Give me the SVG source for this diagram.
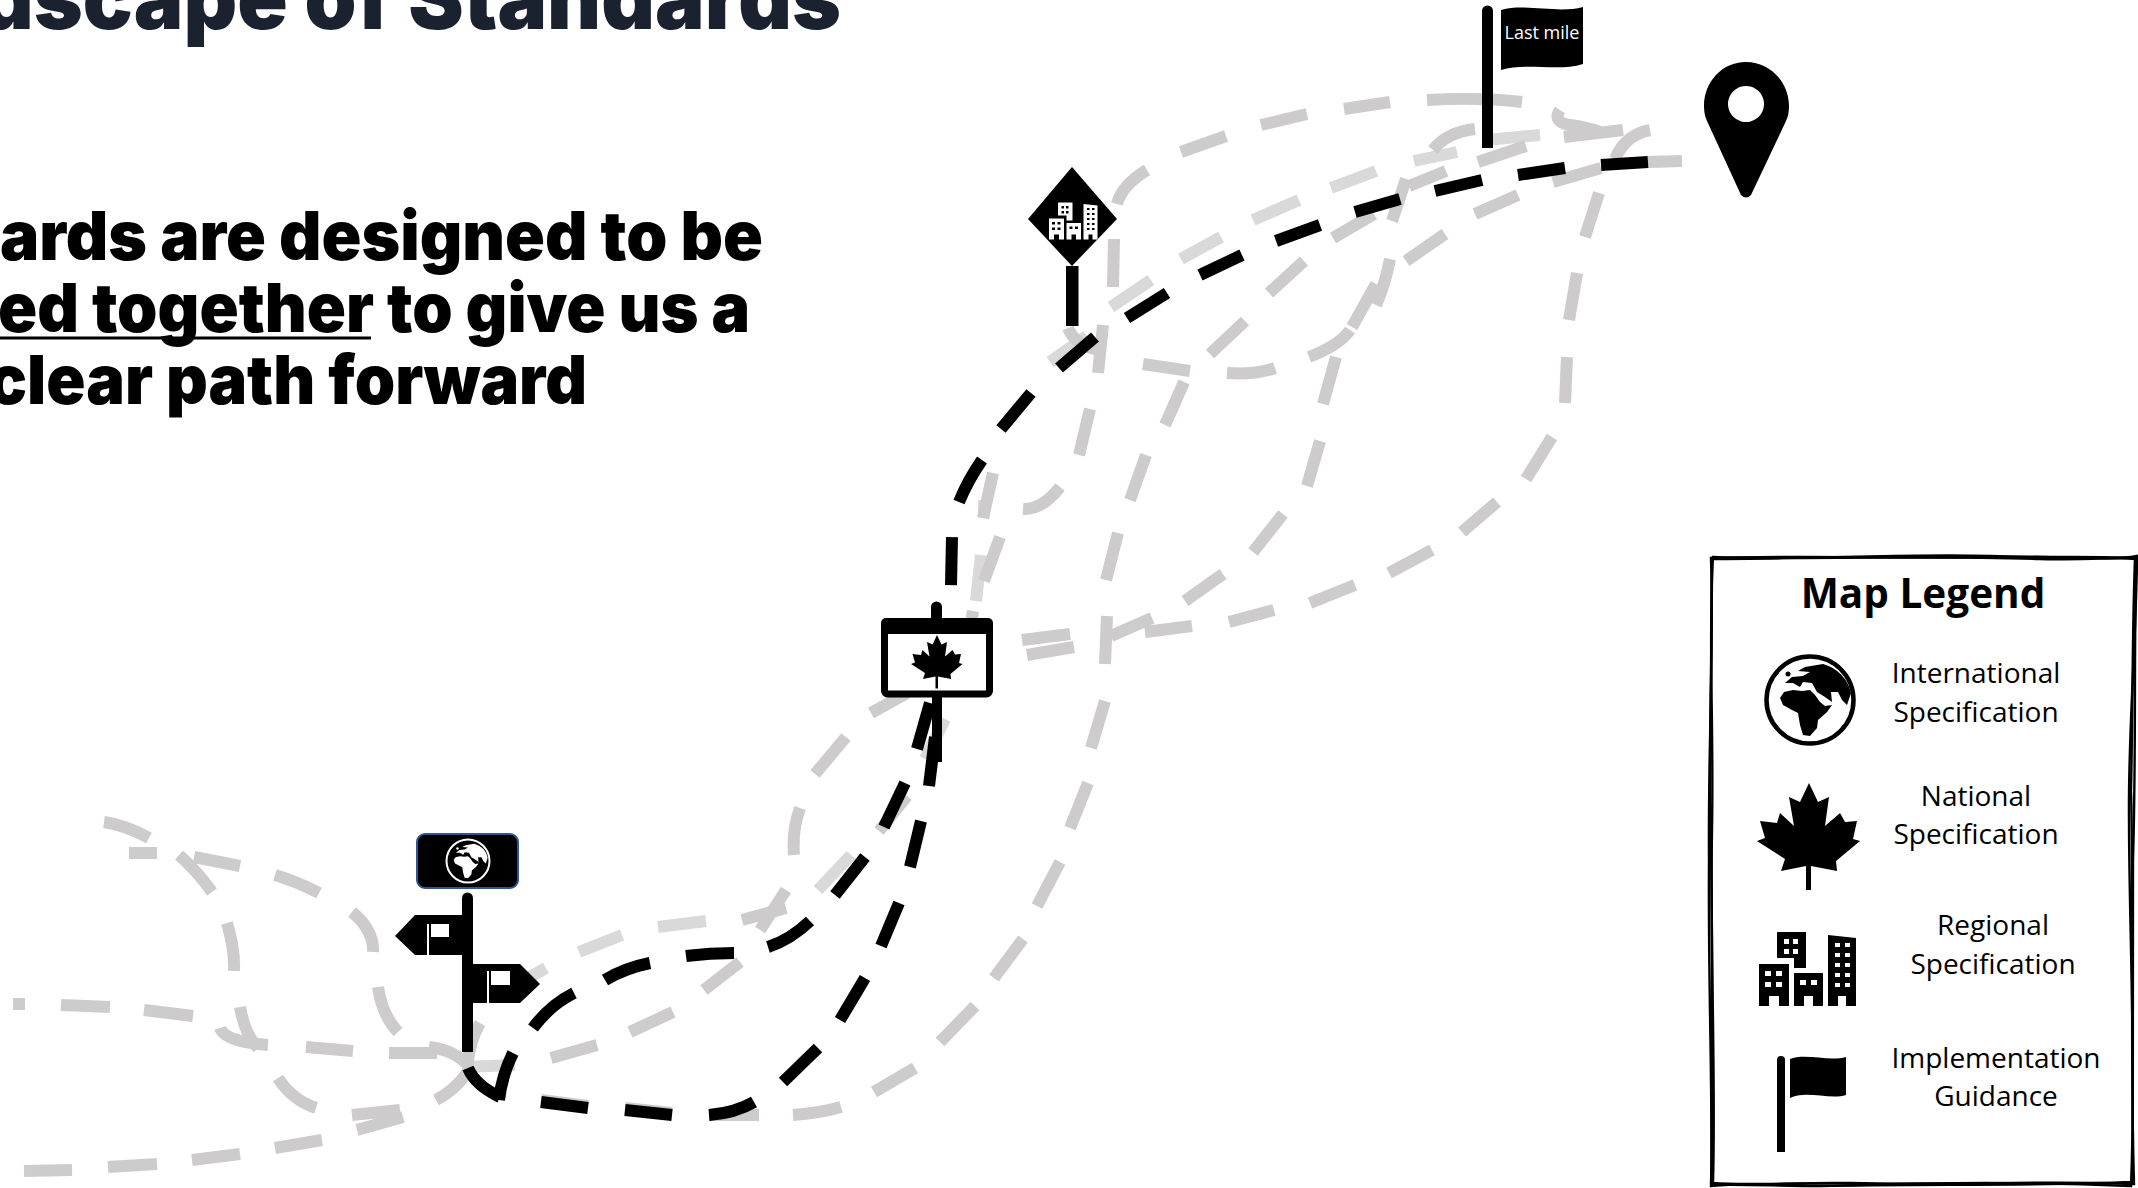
<svg xmlns="http://www.w3.org/2000/svg" width="2138" height="1188" viewBox="0 0 2138 1188">
<style>
.g{fill:none;stroke:#cdcbcb;stroke-width:12}
.l{fill:none;stroke:#d9d9d9;stroke-width:12}
.k{fill:none;stroke:#000;stroke-width:12}
.h{font-family:Inter,"Liberation Sans",sans-serif;font-weight:900;fill:#000;font-size:68px}
.t{font-family:"Open Sans","Noto Sans",sans-serif;font-size:28px;fill:#000;text-anchor:middle}
.f{fill:none;stroke:#000;stroke-width:2.4}
</style>
<defs>
<g id="continents">
<path d="M-30-2L-26-8L-17-10L-8-9L0-10L5-5L10 2L15 6L22 5L17 12L8 20L7 28L0 36L-7 35L-10 25L-12 13L-18 10L-27 5Z"/>
<path d="M-5-33L13-36A39 39 0 0 1 41-7L37 5L32 0L28-8L21-8L22 2L15-3L7-8L2-17L-7-18L-10-13L-17-17L-25-17L-18-23L-7-24L0-28L-12-29Z"/>
<circle cx="-22" cy="-26" r="2.500"/>
</g>
<path id="leaf" d="M0 0L9 19L20 14L16 43L31 30L36 39L48 38L44 56L51 58L27 78L28 88L2 83L2 107L-3 107L-3 83L-28 88L-24 76L-52 58L-44 55L-49 38L-32 40L-29 30L-15 43L-20 14L-9 19Z"/>
<g id="city">
<g fill="currentColor">
<path d="M18 0H47V36H35V26H18Z"/>
<path d="M0 32H30V74H20V64H10V74H0Z"/>
<path d="M35 41H64V74H54V64H45V74H35Z"/>
<path d="M69 3L97 6V74H87V64H79V74H69Z"/>
</g>
<path d="M25 7h5v5h-5zM34 7h5v5h-5zM25 17h5v5h-5zM34 17h5v5h-5zM6 39h6v5H6zM17 39h6v5h-6zM6 50h6v5H6zM17 50h6v5h-6zM41 48h6v5h-6zM52 48h6v5h-6zM76 11h5v4h-5zM86 11h5v4h-5zM76 21h5v4h-5zM86 21h5v4h-5zM76 31h5v4h-5zM86 31h5v4h-5zM76 41h5v4h-5zM86 41h5v4h-5zM76 51h5v4h-5zM86 51h5v4h-5z"/>
</g>
</defs>
<rect width="2138" height="1188" fill="#fff"/>

<g id="title-block">
<text x="-20" y="29" style="font-family:Inter,'Liberation Sans',sans-serif;font-weight:900;font-size:86px;fill:#1a2230" textLength="861" lengthAdjust="spacingAndGlyphs">dscape of Standards</text>
<text class="h" x="0" y="260" textLength="763" lengthAdjust="spacingAndGlyphs">ards are designed to be</text>
<text class="h" x="-2" y="332" textLength="752" lengthAdjust="spacingAndGlyphs">ed together to give us a</text>
<line x1="0" y1="338" x2="371" y2="338" stroke="#000" stroke-width="3"/>
<text class="h" x="-12" y="404" textLength="599" lengthAdjust="spacingAndGlyphs">clear path forward</text>
</g>

<g id="connectors">
<path class="l" d="M1111 307L1151 280M1181 259L1221 237M1253 220L1299 200M1331 188L1376 171M1414 161L1457 152M1486 140L1540 135M1050 362L1087 336M981 555L976 601M984 500L984 518M945 719L925 759M851 855L818 890M462 1067L515 1065M530 977L546 968M579 952L622 935M658 927L706 921"/>
<path class="g" d="M104 822Q125 825 149 838M129 853H157M179 855Q198 872 212 892M194 857L240 866M275 875Q298 882 319 893M352 912Q374 930 373 952M378 987Q382 1015 398 1032M480 1023Q470 1040 467 1067"/>
<path class="g" d="M227 923Q235 950 234 971M240 1007Q245 1035 258 1048M278 1078Q292 1100 316 1108M352 1115L400 1110"/>
<path class="g" d="M24 1171L72 1170M108 1167L157 1164M192 1160L240 1154M275 1148L322 1140M357 1130L403 1117M436 1100Q455 1090 467 1073"/>
<path class="g" d="M13 1004H25M61 1005L110 1007M144 1010L193 1016M220 1028Q225 1042 268 1045M306 1047L353 1051M389 1053L437 1053M429 1047Q455 1050 470 1067M551 1058L597 1045M630 1032L673 1012M704 990L740 962"/>
<path class="g" d="M742 920L786 908M760 930L786 890M794 855Q792 830 800 808M815 774L846 737M871 713L907 693M966 616L978 618M907 796L879 831"/>
<path class="g" d="M541 1100L588 1106M625 1108L672 1113M709 1115H759M793 1115Q820 1113 841 1107M874 1092L915 1068M940 1042L975 1006M994 978L1023 939M1037 906L1060 862M1070 828L1088 783M1091 748L1105 701M1105 664L1107 616M1106 580L1118 533"/>
<path class="g" d="M1648 162L1682 161M1553 182L1601 168M1475 214L1518 195M1406 261L1445 234M1390 259Q1385 285 1376 305M1376 284L1352 327M1350 330Q1340 345 1309 357M1275 368Q1255 375 1227 373M1190 371L1143 364"/>
<path class="g" d="M1245 321L1210 354M1304 261L1269 293M1333 238L1374 214M1392 221L1406 179M1409 186L1446 171M1478 162L1526 146"/>
<path class="g" d="M1117 204Q1122 185 1147 170M1181 152L1226 136M1261 125L1307 114M1344 109L1390 102M1427 100Q1480 97 1522 102M1560 110Q1552 122 1570 125Q1590 128 1600 132M1564 137L1623 130M1433 150Q1447 132 1475 129M1615 159Q1625 135 1650 130"/>
<path class="g" d="M1599 193L1585 237M1577 273L1569 320M1567 357L1565 403M1552 437L1526 479M1497 502L1462 532M1432 550L1389 573M1355 585L1310 603M1274 610L1229 622M1192 626L1145 632M1152 618L1111 636"/>
<path class="g" d="M1336 357L1323 404M1320 441L1307 486M1283 514L1253 552M1223 574L1185 601"/>
<path class="g" d="M1090 409L1079 455M1060 487Q1042 510 1023 509M993 473L983 518M1000 537L984 581M1184 382L1165 425M1146 455L1130 500M1114 239L1113 287M1103 325L1098 373M1068 328Q1075 345 1098 350"/>
<path class="g" d="M1022 640L1070 634M1027 655L1074 647"/>
</g>

<g id="node-start">
<rect x="417" y="834" width="101" height="54" rx="8" fill="#000" stroke="#2f5597" stroke-width="2"/>
<circle cx="468" cy="861" r="21.500" fill="none" stroke="#fff" stroke-width="2"/>
<use href="#continents" transform="translate(468 861) scale(.48)" fill="#fff"/>
<path d="M462 898a5.500 5.500 0 0 1 11 0V1052H462Z"/>
<path d="M462 915H415L395 936L415 955H462ZM473 964H520L540 984L520 1003H473Z"/>
<path d="M427 924h2v31h-2zM431 924h18v13h-18zM487 971h2v32h-2zM491 971h19v14h-19z" fill="#fff"/>
</g>

<g id="node-national">
<path d="M931 607a5.500 5.500 0 0 1 11 0V620H931ZM932 695H942V762H932Z"/>
<rect x="884.500" y="626" width="105" height="68" rx="3" fill="#fff" stroke="#000" stroke-width="7"/>
<rect x="881" y="618" width="112" height="16" rx="5"/>
<use href="#leaf" transform="translate(937 635) scale(.5)"/>
</g>

<g id="node-regional">
<path d="M1072 167L1117 219L1072 266L1028 219Z"/>
<rect x="1066" y="266" width="12.500" height="60"/>
<use href="#city" transform="translate(1049 202.500) scale(.5)" color="#fff" fill="#000"/>
</g>

<g id="node-guidance">
<path d="M1482 11a5.500 5.500 0 0 1 11 0V148H1482Z"/>
<path d="M1501 10C1525 3 1558 14 1583 7V64C1558 72 1525 62 1501 70Z"/>
<text x="1542" y="39" text-anchor="middle" style="font-family:'Open Sans','Noto Sans',sans-serif;font-size:18px;fill:#fff">Last mile</text>
</g>

<g id="node-destination">
<path fill-rule="evenodd" d="M1746 62C1770 62 1789 82 1789 106C1789 112 1788 117 1786 121L1751 195Q1746 200 1741 195L1707 121C1705 117 1704 112 1704 106C1704 82 1722 62 1746 62ZM1746 86a18 18 0 1 0 .01 0Z"/>
</g>

<g id="black-route">
<path class="k" d="M468 1068Q475 1085 500 1097M513 1053Q502 1075 499 1100M541 1102L588 1108M625 1110L672 1115M709 1115Q735 1113 754 1102M783 1082L818 1048M840 1020L865 978M881 946L899 903M910 867L921 821M929 786L935 737"/>
<path class="k" d="M533 1028Q550 1005 574 993M605 980Q625 968 650 963M686 956Q710 953 734 953M768 947Q790 940 810 921M835 895L865 857M884 827L905 783M917 749L930 703"/>
<path class="k" d="M951 585L952 537M959 502Q968 480 982 460M1001 429L1031 393M1059 368L1095 337M1127 318L1167 293M1200 275L1242 255M1276 241L1320 225M1355 212L1400 199M1435 191L1482 180M1518 175L1565 168M1601 165L1648 162"/>
</g>

<g id="legend">
<path class="f" d="M1713 557C1800 561 1900 553 1990 556C2050 558 2100 556 2135 558C2132 640 2133 700 2131 790C2134 900 2130 1050 2134 1184C2050 1180 1950 1186 1850 1183C1800 1182 1750 1186 1713 1183C1716 1080 1710 950 1712 830C1714 720 1708 640 1713 557Z"/>
<path class="f" d="M1711 558C1800 555 1920 559 2010 557C2070 556 2110 561 2137 556C2136 650 2128 730 2129 820C2129 920 2136 1060 2131 1186C2060 1183 1960 1182 1860 1185C1800 1187 1750 1182 1711 1186C1713 1090 1708 990 1709 860C1708 750 1714 650 1711 558Z"/>
<path class="f" d="M1712 559C1820 558 1940 555 2040 559C2080 560 2115 557 2136 559C2134 680 2136 760 2133 860C2132 980 2132 1080 2133 1182C2040 1186 1930 1184 1820 1186C1780 1186 1740 1184 1712 1185C1711 1060 1714 960 1710 800C1710 700 1712 630 1712 559Z"/>
<text x="1923" y="608" text-anchor="middle" style="font-family:'Open Sans','Noto Sans',sans-serif;font-weight:700;font-size:40.500px;fill:#000">Map Legend</text>
<g id="legend-international">
<circle cx="1810" cy="700" r="43.500" fill="none" stroke="#000" stroke-width="4.500"/>
<use href="#continents" transform="translate(1810 700)"/>
<text class="t" x="1976" y="683">International</text>
<text class="t" x="1976" y="722">Specification</text>
</g>
<g id="legend-national">
<use href="#leaf" transform="translate(1809 783)"/>
<text class="t" x="1976" y="806">National</text>
<text class="t" x="1976" y="844">Specification</text>
</g>
<g id="legend-regional">
<use href="#city" transform="translate(1759 932)" color="#000" fill="#fff"/>
<text class="t" x="1993" y="935">Regional</text>
<text class="t" x="1993" y="974">Specification</text>
</g>
<g id="legend-implementation">
<path d="M1777 1060a4 4 0 0 1 8 0V1152H1777Z"/>
<path d="M1790 1059C1805 1053 1830 1062 1846 1057V1095C1830 1100 1805 1090 1790 1098Z"/>
<text class="t" x="1996" y="1068">Implementation</text>
<text class="t" x="1996" y="1106">Guidance</text>
</g>
</g>
</svg>
